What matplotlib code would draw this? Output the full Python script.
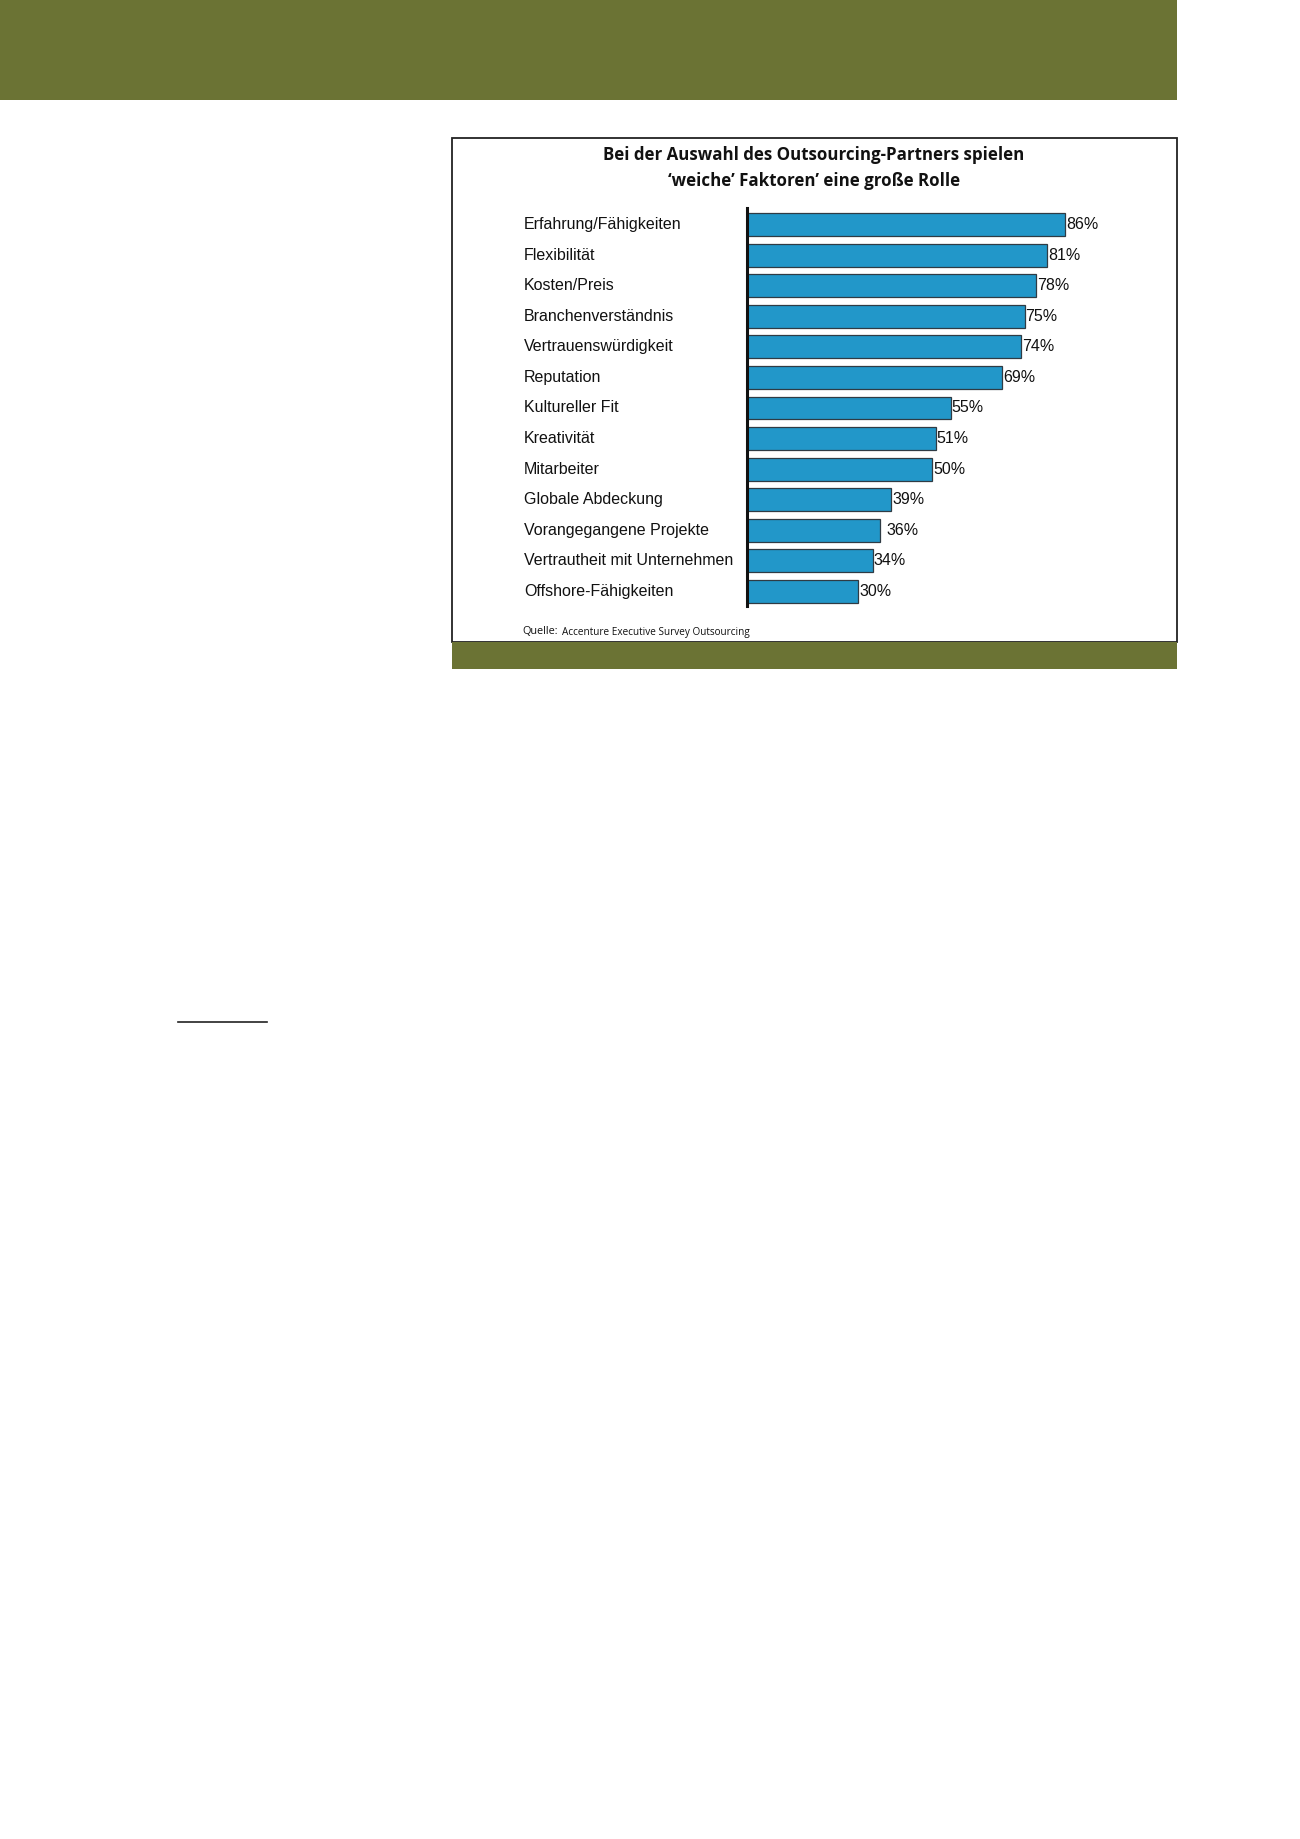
import matplotlib
matplotlib.use("Agg")
import matplotlib.pyplot as plt
from matplotlib.patches import Rectangle
from matplotlib.lines import Line2D
from matplotlib.transforms import blended_transform_factory

W, H = 1300, 1839

title = "Bei der Auswahl des Outsourcing-Partners spielen\n\u2018weiche\u2019 Faktoren\u2019 eine gro\u00dfe Rolle"
source_label = "Quelle:"
source_text = "Accenture Executive Survey Outsourcing"

categories = [
    "Erfahrung/Fähigkeiten",
    "Flexibilität",
    "Kosten/Preis",
    "Branchenverständnis",
    "Vertrauenswürdigkeit",
    "Reputation",
    "Kultureller Fit",
    "Kreativität",
    "Mitarbeiter",
    "Globale Abdeckung",
    "Vorangegangene Projekte",
    "Vertrautheit mit Unternehmen",
    "Offshore-Fähigkeiten",
]
values = [86, 81, 78, 75, 74, 69, 55, 51, 50, 39, 36, 34, 30]

OLIVE = "#6b7334"
BAR = "#2297c9"


def fx(x):
    return x / W


def fy(y):
    return 1 - y / H


def rect(x, y, w, h, **kw):
    # pixel box (top-left origin) -> figure fraction patch
    return Rectangle((fx(x), fy(y + h)), w / W, h / H, transform=fig.transFigure, **kw)


fig = plt.figure(figsize=(W / 100, H / 100), dpi=100)
fig.patch.set_facecolor("white")

# top banner
fig.patches.append(rect(0, 0, 1177, 100, facecolor=OLIVE, edgecolor="none"))
# chart frame and bottom band
fig.patches.append(rect(452, 138, 725, 504, facecolor="white", edgecolor="#222222", linewidth=1.3))
fig.patches.append(rect(452, 642, 725, 27, facecolor=OLIVE, edgecolor="none"))

# footnote rule
fig.lines.append(Line2D([fx(178), fx(267)], [fy(1022), fy(1022)], transform=fig.transFigure,
                        color="#222222", linewidth=1.2))

fig.text(fx(814), fy(168), title, ha="center", va="center", fontsize=12.2, fontweight="bold",
         family="Open Sans", linespacing=1.5, color="#111111")

# bar axes
px_per_pct = 3.70
ax_left, ax_top, ax_bottom, ax_width = 747, 208, 606, 420
ax = fig.add_axes([fx(ax_left), fy(ax_bottom), ax_width / W, (ax_bottom - ax_top) / H])
ax.set_zorder(5)
ax.set_xlim(0, ax_width / px_per_pct)
ax.set_ylim(len(categories) - 1 + 0.474, -0.539)
ypos = list(range(len(categories)))
ax.barh(ypos, values, height=0.75, color=BAR, edgecolor="#2f3b44", linewidth=0.9)
ax.set_facecolor("none")
for s in ["top", "right", "bottom"]:
    ax.spines[s].set_visible(False)
ax.spines["left"].set_linewidth(2.2)
ax.spines["left"].set_color("#111111")
ax.set_xticks([])
ax.set_yticks([])

label_tr = blended_transform_factory(fig.transFigure, ax.transData)
for y, cat, v in zip(ypos, categories, values):
    ax.text(fx(524), y, cat, transform=label_tr, ha="left", va="center", fontsize=11.5,
            family="Liberation Sans", color="#111111", clip_on=False)
    off = 1.8 if v == 36 else 0.3
    ax.text(v + off, y, f"{v}%", ha="left", va="center", fontsize=11.5,
            family="Liberation Sans", color="#111111", clip_on=False)

fig.text(fx(522), fy(632), source_label, ha="left", va="center", fontsize=7.8,
         family="Open Sans", color="#111111")
fig.text(fx(562), fy(633), source_text, ha="left", va="center", fontsize=7.2,
         family="Open Sans", color="#111111")

fig.savefig("out.png", dpi=100)
